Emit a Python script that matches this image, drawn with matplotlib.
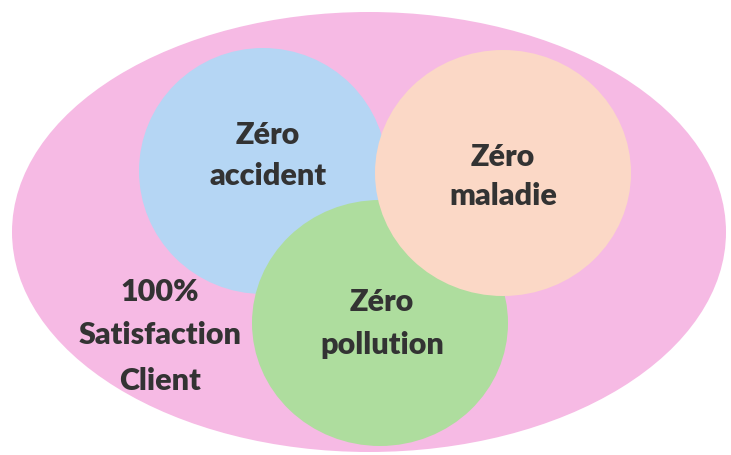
import matplotlib
matplotlib.use("Agg")
import matplotlib.pyplot as plt
from matplotlib.patches import Ellipse

# Labels
outer_label = ["100%", "Satisfaction", "Client"]
circle_labels = [["Zéro", "accident"], ["Zéro", "pollution"], ["Zéro", "maladie"]]

# Geometry (pixel coordinates of the picture)
outer_center = (369, 232)
outer_size = (714, 440)
circle_centers = [(263, 171), (380, 323), (503, 173)]
circle_sizes = [(248, 246), (256, 246), (256, 246)]
circle_colors = ["#B5D6F4", "#AEDD9E", "#FBD8C6"]
outer_color = "#F6BAE4"

label_pos = [[(268, 135), (268, 176)], [(382, 302), (382, 345)], [(503, 157), (503, 196)]]
outer_label_pos = [(160, 292), (160, 335), (160, 381)]

fig = plt.figure(figsize=(7.31, 4.55), dpi=100)
ax = fig.add_axes([0, 0, 1, 1])
ax.set_xlim(0, 731)
ax.set_ylim(455, 0)
ax.axis("off")

ax.add_patch(Ellipse(outer_center, outer_size[0], outer_size[1], facecolor=outer_color, edgecolor="none", zorder=1))
for c, s, col in zip(circle_centers, circle_sizes, circle_colors):
    ax.add_patch(Ellipse(c, s[0], s[1], facecolor=col, edgecolor="none", zorder=2))

font = dict(family=["Lato", "DejaVu Sans"], fontweight="heavy", fontsize=22, color="#333333",
            ha="center", va="center", zorder=5)
for lines, poss in zip(circle_labels, label_pos):
    for t, p in zip(lines, poss):
        ax.text(p[0], p[1], t, **font)
for t, p in zip(outer_label, outer_label_pos):
    ax.text(p[0], p[1], t, **font)

fig.savefig("out.png", dpi=100)
